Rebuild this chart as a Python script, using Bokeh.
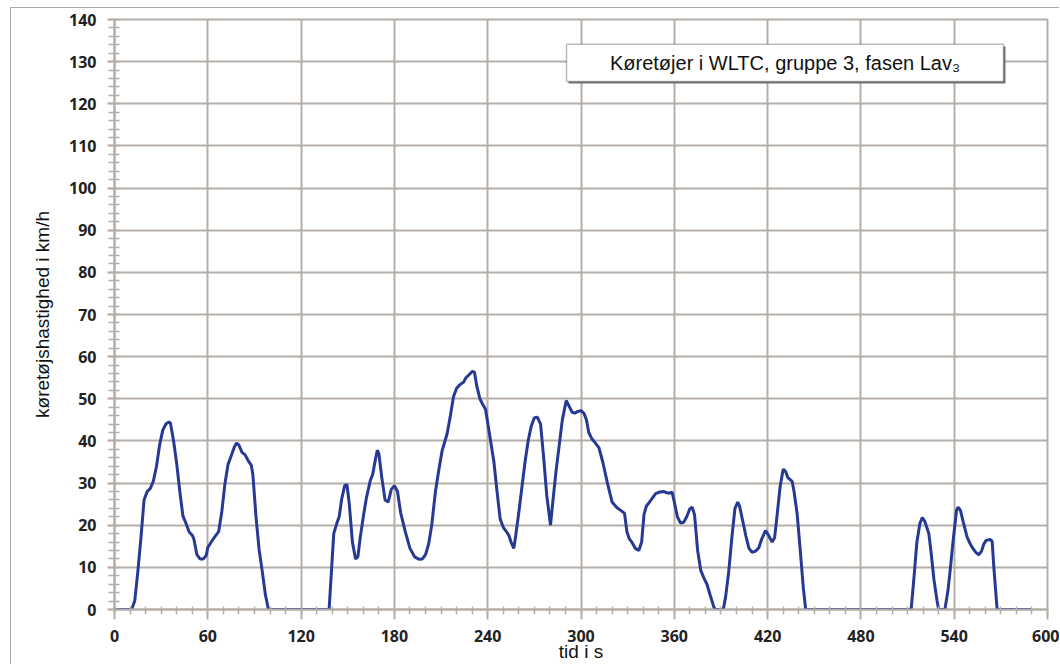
import math
from bokeh.plotting import figure
from bokeh.models import (ColumnDataSource, SingleIntervalTicker, Range1d,
                          BoxAnnotation, Label)
from bokeh.embed import file_html
from bokeh.resources import INLINE

# ---- data (time in s, speed in km/h) ----
time_s = [0, 11, 13, 15, 17, 19, 21, 23, 25, 27, 29, 31, 33, 35, 36, 38, 40, 42, 44, 46,
          48, 50, 51, 53, 55, 57, 59, 60, 62, 64, 66, 67, 69, 71, 73, 75, 77, 78.5, 80, 82,
          84, 86, 88, 89, 91, 93, 95, 97, 99, 137, 138, 140, 141, 143, 144.5, 146, 148, 149.5,
          151, 153, 155, 156.5, 158, 160, 162, 164.5, 166, 168, 169, 170, 172, 174, 176, 178,
          180, 182, 184, 187, 190, 193, 196, 198, 200, 202, 204, 206.4, 208.5, 210.7, 213.9,
          216, 218, 220, 222, 224.6, 226, 228, 230, 231.5, 233, 235, 237, 238.6, 241, 244,
          246, 248, 250, 252, 253.6, 255, 256.8, 258, 260, 262, 264, 266, 268, 270, 272, 274,
          276, 278, 280.4, 282, 284, 286, 288, 290.5, 292, 294.3, 296, 298, 300, 302, 303.5,
          305, 307, 309, 311.5, 314, 317, 320, 323, 326, 328, 329.5, 331, 333, 335, 337.2,
          339, 340.5, 342, 344, 346, 348, 350, 353, 356, 358.6, 360, 362, 364, 366, 368, 370,
          371.5, 373, 375, 377, 379, 381, 383, 385.5, 386.5, 391.5, 393, 395, 397, 399, 400.8,
          402, 404, 406, 408, 410, 412, 414.3, 416, 418.6, 420, 422.9, 424.5, 426, 428, 430,
          431.5, 433, 435.8, 437, 439, 441, 443, 444.5, 512.3, 514, 516, 518, 519.5, 521,
          523.7, 525, 527, 529, 530, 534, 536, 537.6, 539.5, 541.5, 542.5, 544, 546, 548.3,
          550, 552, 554, 555.8, 557.5, 559, 560.5, 563, 564.4, 565.5, 567.6, 590]
speed_kmh = [0, 0, 2, 9, 17, 26, 28, 28.7, 30.5, 34, 39, 42.5, 44, 44.5, 44.2, 40, 34.6, 28, 22.2, 20.4,
             18.4, 17.6, 16.8, 13, 12, 12, 12.8, 14.7, 15.9, 17, 18, 18.5, 23.2, 29.8, 34.4, 36.4, 38.5, 39.5, 39, 37.3,
             36.7, 35.3, 34.2, 31.9, 22, 14.2, 9.1, 3.6, 0, 0, 0, 12, 18, 20.5, 22, 26, 29.4, 29.6,
             25, 16, 12, 12.5, 17, 22, 26.5, 30.6, 32, 36, 37.8, 37, 31, 26, 25.5, 28.5,
             29.4, 28, 23, 18.5, 14.5, 12.5, 11.9, 12, 13, 15.5, 20, 28, 33, 37.7, 41.7,
             46, 50.5, 52.5, 53.3, 54, 55, 55.7, 56.5, 56.3, 53, 50, 48.5, 47.5, 42, 35,
             28, 21.5, 19.5, 18.5, 17.6, 16, 14.5, 17.5, 23, 29, 35, 40, 43.5, 45.5, 45.6, 44,
             36, 27, 20, 26, 33, 39, 45, 49.6, 48.5, 46.8, 46.6, 47, 47.2, 46.5, 45,
             42, 40.5, 39.6, 38.4, 35, 30, 25.5, 24.2, 23.4, 22.8, 18.5, 16.8, 15.8, 14.5, 14,
             16, 22.5, 24.5, 25.5, 26.5, 27.5, 27.8, 28, 27.6, 27.8, 25.5, 22, 20.5, 20.7, 22, 23.9,
             24.3, 22.5, 14, 9.3, 7.5, 6, 3.5, 0.5, 0, 0, 3, 9, 17, 24, 25.5,
             24.5, 21, 17.5, 14.5, 13.6, 13.8, 14.6, 16.5, 18.7, 18, 16, 17, 22, 29, 33.3,
             32.8, 31.3, 30.4, 28, 22.7, 14, 5, 0, 0, 7, 16, 20.5, 21.8, 21,
             18, 14, 7, 2, 0, 0, 4.5, 10, 17, 23.5, 24.3, 23.5, 20.5, 17.2,
             15.8, 14.5, 13.5, 13, 13.8, 15.5, 16.4, 16.6, 16.2, 10, 0, 0]

x_tick_step = 60
y_tick_step = 10
title_text = "Køretøjer i WLTC, gruppe 3, fasen Lav₃"
x_label = "tid i s"
y_label = "køretøjshastighed i km/h"

GRID = "#b5aea8"
LINE = "#263a94"

src = ColumnDataSource(dict(t=time_s, v=speed_kmh))

# the page shows a thin frame whose top-left corner is at (10, 7)
p = figure(width=1049, height=657, output_backend="svg", toolbar_location=None,
           x_range=Range1d(0, 600), y_range=Range1d(0, 140),
           min_border_left=103, min_border_right=13, min_border_top=11,
           min_border_bottom=56, background_fill_color="white",
           border_fill_color="white")
p.styles = {"margin-left": "10px", "margin-top": "7px",
            "border-left": "1px solid #a9a9a9", "border-top": "1px solid #a9a9a9"}

p.line("t", "v", source=src, line_color=LINE, line_width=3)

for ax, step, nminor in ((p.xaxis[0], x_tick_step, 6), (p.yaxis[0], y_tick_step, 5)):
    ax.ticker = SingleIntervalTicker(interval=step, num_minor_ticks=nminor)
    ax.axis_line_color = GRID
    ax.axis_line_width = 2
    ax.major_tick_line_color = GRID
    ax.major_tick_line_width = 2
    ax.minor_tick_line_color = GRID
    ax.minor_tick_line_width = 1.5
    ax.major_label_text_font = "Open Sans"
    ax.major_label_text_font_style = "bold"
    ax.major_label_text_font_size = "16px"
    ax.major_label_text_color = "#222222"
    ax.axis_label_text_font = "Liberation Sans"
    ax.axis_label_text_font_style = "normal"
    ax.axis_label_text_font_size = "19px"
    ax.axis_label_text_color = "#111111"

p.xaxis.axis_label = x_label
p.yaxis.axis_label = y_label

p.xaxis.major_tick_in = 0
p.xaxis.major_tick_out = 10
p.xaxis.minor_tick_in = 3
p.xaxis.minor_tick_out = 5
p.xaxis.major_label_standoff = 10
p.xaxis.axis_label_standoff = -4

p.yaxis.major_tick_in = 0
p.yaxis.major_tick_out = 7
p.yaxis.minor_tick_in = 5
p.yaxis.minor_tick_out = 6
p.yaxis.major_label_standoff = 11
p.yaxis.axis_label_standoff = 13

for g, step in ((p.xgrid[0], x_tick_step), (p.ygrid[0], y_tick_step)):
    g.ticker = SingleIntervalTicker(interval=step)
    g.grid_line_color = GRID
    g.grid_line_width = 2

p.outline_line_color = GRID
p.outline_line_width = 2

# title box with shadow
p.add_layout(BoxAnnotation(left=292.0, right=573.0, top=133.6, bottom=124.8,
                           fill_color="#777777", fill_alpha=1, line_alpha=0))
p.add_layout(BoxAnnotation(left=290.7, right=571.7, top=134.1, bottom=125.3,
                           fill_color="white", fill_alpha=1,
                           line_color="#222222", line_width=1.5))
p.add_layout(Label(x=431.2, y=129.6, text=title_text, text_align="center",
                   text_baseline="middle", text_font="Liberation Sans",
                   text_font_size="20px", text_color="#111111"))

open("out.html", "w").write(file_html(p, INLINE))
